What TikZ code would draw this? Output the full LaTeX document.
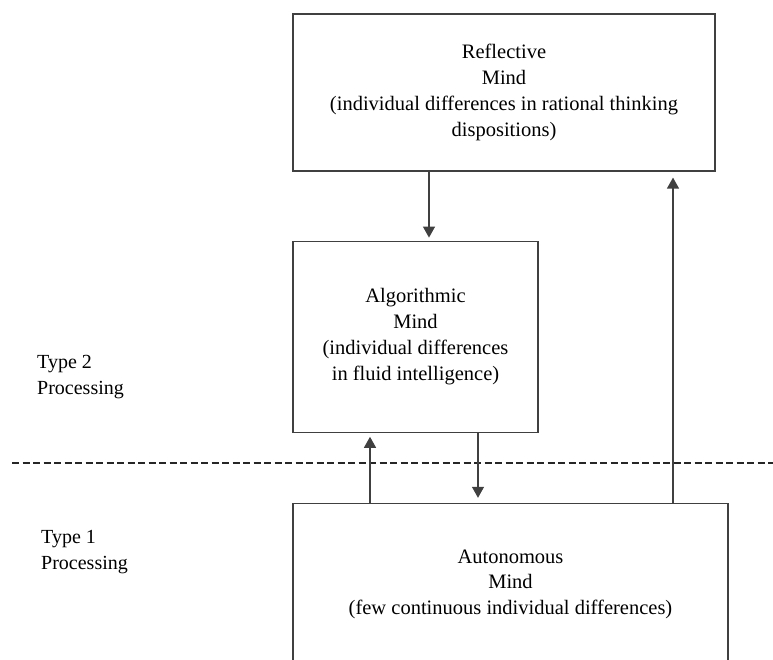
\documentclass[tikz,border=0pt]{standalone}
\usepackage{fontspec}
\setmainfont{Liberation Serif}
\usetikzlibrary{positioning,arrows.meta}

\tikzset{
  mindbox/.style={draw=black!75, line width=1.2pt, align=center, inner sep=0pt,
    font=\fontsize{20.5}{25.8}\selectfont},
  flow/.style={draw=black!75, line width=1.2pt, -{Triangle[width=12pt,length=11pt]}},
  typelabel/.style={anchor=west, align=left, inner sep=0pt,
    font=\fontsize{20}{26}\selectfont},
  divider/.style={draw=black!85, line width=2.4pt, dash pattern=on 7pt off 3.5pt}
}

\begin{document}
\begin{tikzpicture}[x=1pt,y=1pt]
\useasboundingbox (0,0) rectangle (773,660);
\clip (0,0) rectangle (773,660);
\fill[white] (0,0) rectangle (773,660);

% the three minds
\node[mindbox, minimum width=422pt, minimum height=157pt] (reflective) at (504,567.5)
  {Reflective\\Mind\\(individual differences in rational thinking\\dispositions)};
\node[mindbox, minimum width=245pt, minimum height=191pt,
  below=69pt of reflective.south west, anchor=north west] (algorithmic)
  {Algorithmic\\Mind\\(individual differences\\in fluid intelligence)};
\node[mindbox, minimum width=435pt, minimum height=162pt,
  below=70pt of algorithmic.south west, anchor=north west] (autonomous)
  {Autonomous\\Mind\\(few continuous individual differences)};

% type 1 / type 2 split
\coordinate (divleft) at (12,197);
\coordinate (divright) at (773,197);
\draw[divider] (divleft) -- (divright);
\node[typelabel] (type2) at (37,282.5) {Type 2\\Processing};
\node[typelabel] (type1) at (41,107.5) {Type 1\\Processing};

% arrows
\draw[flow, shorten >=3pt] ([xshift=-75pt]reflective.south)
  -- ([xshift=-75pt]reflective.south |- algorithmic.north);
\draw[flow, shorten >=4pt] ([xshift=-140.5pt]autonomous.north)
  -- ([xshift=-140.5pt]autonomous.north |- algorithmic.south);
\draw[flow, shorten >=5pt] ([xshift=62.5pt]algorithmic.south)
  -- ([xshift=62.5pt]algorithmic.south |- autonomous.north);
\draw[flow, shorten >=6pt] ([xshift=162.5pt]autonomous.north)
  -- ([xshift=162.5pt]autonomous.north |- reflective.south);
\end{tikzpicture}
\end{document}
